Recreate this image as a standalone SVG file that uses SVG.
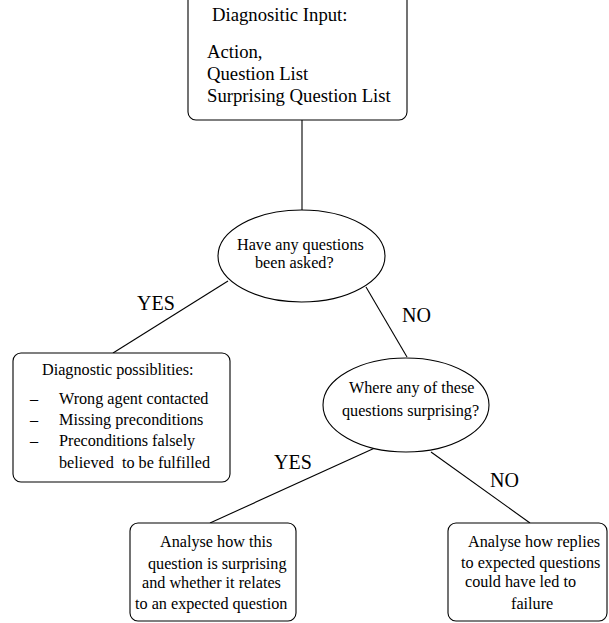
<svg xmlns="http://www.w3.org/2000/svg" width="609" height="623" viewBox="0 0 609 623">
<style>
  .box { fill: #ffffff; stroke: #000000; stroke-width: 1.1; }
  .t { font-family: "Liberation Serif", "Times New Roman", serif; font-size: 16.2px; fill: #000000; }
  .tb { font-family: "Liberation Serif", "Times New Roman", serif; font-size: 18.7px; fill: #000000; }
  .lbl { font-family: "Liberation Serif", "Times New Roman", serif; font-size: 20px; fill: #000000; }
  .conn line { stroke: #000000; stroke-width: 1.1; }
</style>
<rect width="609" height="623" fill="#ffffff"/>
<g id="connectors" class="conn">
  <line x1="302" y1="120" x2="302" y2="210"/>
  <line x1="228" y1="281" x2="113" y2="353"/>
  <line x1="366" y1="287" x2="407" y2="357"/>
  <line x1="377" y1="447" x2="210" y2="523"/>
  <line x1="431" y1="452" x2="530" y2="523"/>
  <text class="lbl" x="137" y="310">YES</text>
  <text class="lbl" x="402" y="322">NO</text>
  <text class="lbl" x="274" y="469">YES</text>
  <text class="lbl" x="490" y="487">NO</text>
</g>
<g id="input">
  <rect class="box" x="188" y="-10" width="219" height="130" rx="8"/>
  <text class="tb" x="212" y="21">Diagnositic Input:</text>
  <text class="tb" x="207" y="58">Action,</text>
  <text class="tb" x="207" y="80">Question List</text>
  <text class="tb" x="207" y="102">Surprising Question List</text>
</g>
<g id="q1">
  <ellipse class="box" cx="301.5" cy="256" rx="83.5" ry="46"/>
  <text class="t" x="237" y="250">Have any questions</text>
  <text class="t" x="255" y="268">been asked?</text>
</g>
<g id="diag">
  <rect class="box" x="13" y="353" width="217" height="129" rx="8"/>
  <text class="t" x="42" y="375">Diagnostic possiblities:</text>
  <text class="t" x="30" y="404">–</text>
  <text class="t" x="59" y="404">Wrong agent contacted</text>
  <text class="t" x="30" y="425">–</text>
  <text class="t" x="59" y="425">Missing preconditions</text>
  <text class="t" x="30" y="446">–</text>
  <text class="t" x="59" y="446">Preconditions falsely</text>
  <text class="t" x="59" y="468" xml:space="preserve">believed  to be fulfilled</text>
</g>
<g id="q2">
  <ellipse class="box" cx="406" cy="405" rx="83" ry="47"/>
  <text class="t" x="349" y="393">Where any of these</text>
  <text class="t" x="342" y="416">questions surprising?</text>
</g>
<g id="surprising">
  <rect class="box" x="130" y="523" width="166" height="98" rx="8"/>
  <text class="t" x="160" y="547">Analyse how this</text>
  <text class="t" x="148" y="569">question is surprising</text>
  <text class="t" x="142" y="588">and whether it relates</text>
  <text class="t" x="135" y="609">to an expected question</text>
</g>
<g id="expected">
  <rect class="box" x="448" y="523" width="159" height="98" rx="8"/>
  <text class="t" x="468" y="547">Analyse how replies</text>
  <text class="t" x="461" y="568">to expected questions</text>
  <text class="t" x="465" y="587">could have led to</text>
  <text class="t" x="511" y="609">failure</text>
</g>
</svg>
